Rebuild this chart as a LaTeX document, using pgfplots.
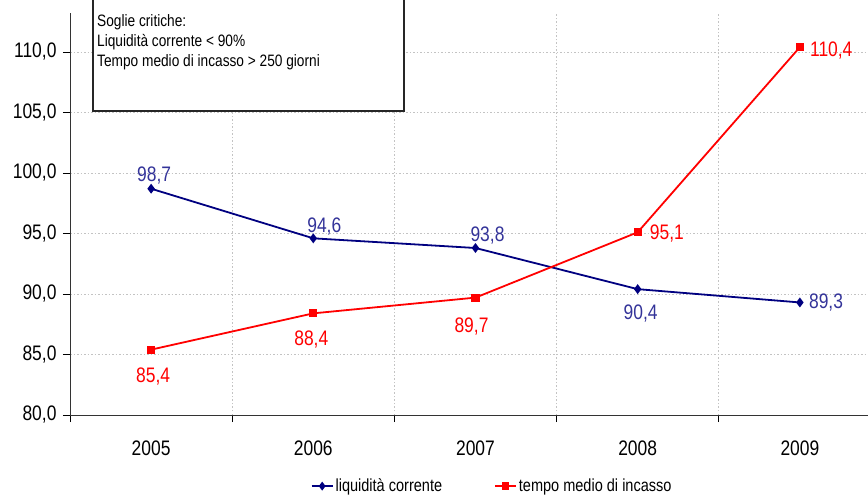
\documentclass[border=0pt]{standalone}
\usepackage{pgfplots}
\pgfplotsset{compat=1.18}
\usepackage{pgfplotstable}
\usepackage{fontspec}
\setmainfont{Liberation Sans}
\newfontfamily\chartfont{Liberation Sans}[FakeStretch=0.83]
\definecolor{navyline}{RGB}{0,0,128}
\definecolor{navytext}{RGB}{51,51,153}
\definecolor{redline}{RGB}{255,0,0}
\definecolor{gridgray}{RGB}{195,195,195}

\pgfplotstableread{
x y
0 98.7
1 94.6
2 93.8
3 90.4
4 89.3
}\liqtable

\pgfplotstableread{
x y
0 85.4
1 88.4
2 89.7
3 95.1
4 110.4
}\temptable

\begin{document}
\begin{tikzpicture}
\path[use as bounding box] (0,0) rectangle (868bp,497bp);
\begin{axis}[
  at={(70bp,82bp)}, anchor=south west,
  scale only axis, width=798bp, height=402bp,
  xmin=-0.5, xmax=4.42,
  ymin=80, ymax=113.22,
  axis lines*=left,
  axis line style={black!80, line width=0.8bp},
  xtick={0,1,2,3,4},
  xticklabels={2005,2006,2007,2008,2009},
  minor xtick={-0.5,0.5,1.5,2.5,3.5},
  ytick={80,85,...,110},
  tick align=outside,
  major tick length=7bp, minor tick length=7bp,
  major x tick style={draw=none},
  tick style={black, line width=0.6bp},
  xminorgrids, ymajorgrids,
  grid style={gridgray, dash pattern=on 1.5bp off 2bp, line width=0.6bp},
  minor grid style={gridgray, dash pattern=on 1.5bp off 2bp, line width=0.6bp},
  scaled y ticks=false,
  /pgf/number format/assume math mode=true,
  yticklabel={\pgfmathprintnumber[fixed,fixed zerofill,precision=1,use comma]{\tick}},
  ticklabel style={font=\fontsize{21bp}{24bp}\chartfont},
  xticklabel style={yshift=-15bp},
  yticklabel style={xshift=-3bp},
  legend style={at={(axis description cs:0.529,-0.177)}, anchor=center, draw=none, fill=none,
    legend columns=2, font=\fontsize{17.5bp}{19bp}\chartfont,
    /tikz/every even column/.append style={column sep=50bp}},
  legend image code/.code={\draw[mark repeat=2,mark phase=2] plot coordinates {(0bp,0bp) (10.5bp,0bp) (21bp,0bp)};},
  legend cell align=left,
  clip=false,
  nodes near coords={\pgfmathprintnumber[fixed,fixed zerofill,precision=1,use comma]{\pgfplotspointmeta}},
  point meta=explicit,
]
\addplot[forget plot, navyline, line width=1.8bp, mark=diamond*, mark size=3.5bp, mark options={solid, fill=navyline},
  every node near coord/.append style={text=navytext, font=\fontsize{21bp}{24bp}\chartfont},
  coordinate style/.condition={x==0}{anchor=base, xshift=3bp, yshift=7bp},
  coordinate style/.condition={x==1}{anchor=base, xshift=11bp, yshift=6bp},
  coordinate style/.condition={x==2}{anchor=base, xshift=12bp, yshift=7bp},
  coordinate style/.condition={x==3}{anchor=base, xshift=3bp, yshift=-30bp},
  coordinate style/.condition={x==4}{anchor=west, xshift=5bp, yshift=0bp},
] table[x=x, y=y, meta=y] {\liqtable};
\addplot[forget plot, redline, line width=1.8bp, mark=square*, mark size=3.2bp, mark options={solid, fill=redline},
  every node near coord/.append style={text=redline, font=\fontsize{21bp}{24bp}\chartfont},
  coordinate style/.condition={x==0}{anchor=base, xshift=2bp, yshift=-33bp},
  coordinate style/.condition={x==1}{anchor=base, xshift=-2bp, yshift=-32bp},
  coordinate style/.condition={x==2}{anchor=base, xshift=-4bp, yshift=-35bp},
  coordinate style/.condition={x==3}{anchor=west, xshift=8bp, yshift=-1bp},
  coordinate style/.condition={x==4}{anchor=west, xshift=6bp, yshift=-3bp},
] table[x=x, y=y, meta=y] {\temptable};
\addlegendimage{navyline, line width=1.8bp, mark=diamond*, mark size=3bp, mark options={solid, fill=navyline}}
\addlegendimage{redline, line width=1.8bp, mark=square*, mark size=3bp, mark options={solid, fill=redline}}
\legend{liquidità corrente, tempo medio di incasso}
\end{axis}
\draw[black!85, line width=1.2bp, fill=white] (93bp,386bp) rectangle (404bp,505bp);
\begin{scope}[font=\fontsize{16.5bp}{19bp}\chartfont]
\node[anchor=base west, inner sep=0] at (97bp,470.5bp) {Soglie critiche:};
\node[anchor=base west, inner sep=0] at (97bp,450.5bp) {Liquidità corrente < 90\%};
\node[anchor=base west, inner sep=0] at (97bp,430.5bp) {Tempo medio di incasso > 250 giorni};
\end{scope}
\end{tikzpicture}
\end{document}
